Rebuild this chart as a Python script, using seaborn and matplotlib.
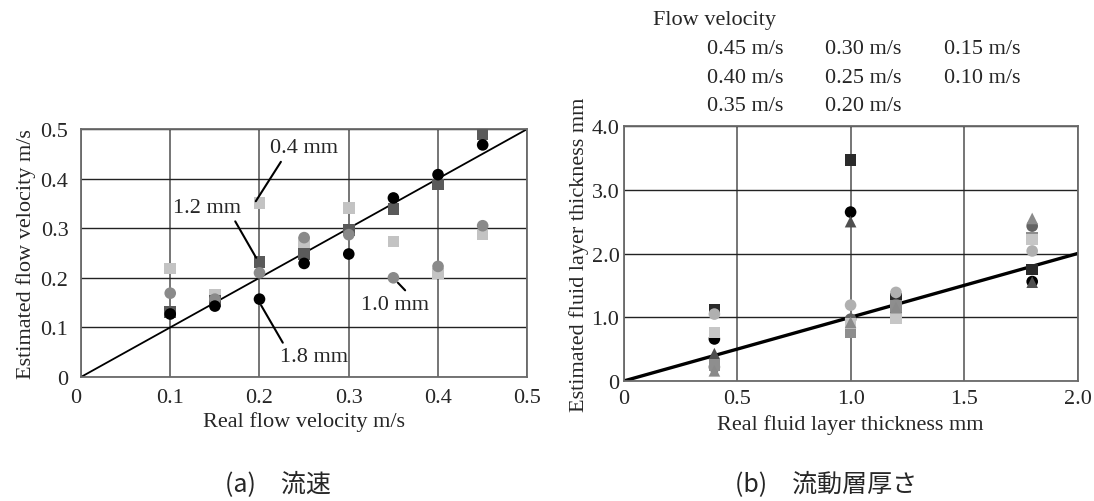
import numpy as np
import pandas as pd
import matplotlib
matplotlib.use("Agg")
import matplotlib.pyplot as plt
import seaborn as sns

# ---------------- data ----------------
real_velocity = [0.10, 0.15, 0.20, 0.25, 0.30, 0.35, 0.40, 0.45]
est_v_04mm = [0.219, 0.165, 0.351, 0.270, 0.341, 0.273, 0.209, 0.287]
est_v_12mm = [0.131, 0.153, 0.232, 0.248, 0.297, 0.339, 0.388, 0.489]
est_v_10mm = [0.169, 0.157, 0.210, 0.281, 0.287, 0.200, 0.223, 0.305]
est_v_18mm = [0.127, 0.143, 0.157, 0.229, 0.248, 0.361, 0.408, 0.468]
thick_labels = ["0.4 mm", "1.2 mm", "1.0 mm", "1.8 mm"]

real_thickness = [0.4, 1.0, 1.2, 1.8]
est_t_045 = [1.12, 3.47, 1.29, 1.75]
est_t_040 = [0.66, 2.65, 1.10, 1.56]
est_t_035 = [0.43, 2.50, 1.22, 1.55]
est_t_030 = [0.22, 0.97, 1.20, 2.43]
est_t_025 = [0.25, 0.77, 1.18, 2.25]
est_t_020 = [1.05, 1.19, 1.39, 2.04]
est_t_015 = [0.76, 0.90, 0.98, 2.22]
est_t_010 = [0.16, 0.92, 1.15, 2.55]
velocity_labels = ["0.45 m/s", "0.40 m/s", "0.35 m/s", "0.30 m/s",
                   "0.25 m/s", "0.20 m/s", "0.15 m/s", "0.10 m/s"]

# ---------------- style ----------------
sns.set_theme(style="white")
plt.rcParams["font.family"] = ["Liberation Serif", "DejaVu Serif"]
plt.rcParams["mathtext.fontset"] = "stix"

fig = plt.figure(figsize=(10.94, 5.02), dpi=100)
axL = fig.add_axes([0.074, 0.247, 0.408, 0.494])
axR = fig.add_axes([0.570, 0.239, 0.415, 0.508])

FS = 16

# ---------------- left: velocity ----------------
dfL = pd.DataFrame({
    "real": real_velocity * 4,
    "est": est_v_04mm + est_v_12mm + est_v_10mm + est_v_18mm,
    "thick": sum([[t] * len(real_velocity) for t in thick_labels], []),
})
paletteL = {"0.4 mm": "#c3c3c3", "1.2 mm": "#5a5a5a", "1.0 mm": "#8a8a8a", "1.8 mm": "#000000"}
markersL = {"0.4 mm": "s", "1.2 mm": "s", "1.0 mm": "o", "1.8 mm": "o"}
sns.scatterplot(data=dfL, x="real", y="est", hue="thick", style="thick",
                palette=paletteL, markers=markersL, s=70, linewidth=0,
                ax=axL, legend=False, zorder=3)
axL.plot([0, 0.5], [0, 0.5], color="black", lw=1.3, zorder=2)
axL.set_xlim(0, 0.5)
axL.set_ylim(0, 0.5)
axL.set_xticks([0, 0.1, 0.2, 0.3, 0.4, 0.5])
axL.set_xticklabels(["0", "0.1", "0.2", "0.3", "0.4", "0.5"])
axL.set_yticks([0, 0.1, 0.2, 0.3, 0.4, 0.5])
axL.set_yticklabels(["0", "0.1", "0.2", "0.3", "0.4", "0.5"])
axL.tick_params(axis="x", pad=8)
axL.tick_params(axis="y", pad=9)
axL.get_xticklabels()[0].set_horizontalalignment("right")
axL.set_xlabel("Real flow velocity m/s", fontsize=FS, labelpad=3)
axL.set_ylabel("Estimated flow velocity m/s", fontsize=FS, labelpad=3)

# (label, line end at marker, text centre, text anchor of the leader line)
ann = [("0.4 mm", (0.195, 0.352), (0.250, 0.462), (0.2, 0.0)),
       ("1.2 mm", (0.197, 0.238), (0.141, 0.342), (0.88, 0.0)),
       ("1.0 mm", (0.354, 0.192), (0.352, 0.147), (0.72, 0.95)),
       ("1.8 mm", (0.201, 0.147), (0.261, 0.041), (0.08, 1.0))]
for txt, xy, xyt, rp in ann:
    axL.annotate(txt, xy=xy, xytext=xyt, fontsize=FS, ha="center", va="center",
                 arrowprops=dict(arrowstyle="-", color="black", lw=1.5,
                                 shrinkA=1, shrinkB=1, relpos=rp),
                 zorder=4)

# ---------------- right: thickness ----------------
series_t = [est_t_045, est_t_040, est_t_035, est_t_030,
            est_t_025, est_t_020, est_t_015, est_t_010]
dfR = pd.DataFrame({
    "real": real_thickness * len(series_t),
    "est": sum(series_t, []),
    "vel": sum([[v] * len(real_thickness) for v in velocity_labels], []),
})
paletteR = dict(zip(velocity_labels, ["#2a2a2a", "#000000", "#4f4f4f", "#636363",
                                      "#8e8e8e", "#b0b0b0", "#c6c6c6", "#8a8a8a"]))
markersR = dict(zip(velocity_labels, ["s", "o", "^", "o", "s", "o", "s", "^"]))
sns.scatterplot(data=dfR, x="real", y="est", hue="vel", style="vel",
                hue_order=velocity_labels[::-1], style_order=velocity_labels[::-1],
                palette=paletteR, markers=markersR, s=70, linewidth=0,
                ax=axR, legend=False, zorder=3)
axR.plot([0, 2.0], [0, 2.0], color="black", lw=2.4, zorder=2)
axR.set_xlim(0, 2.0)
axR.set_ylim(0, 4.0)
axR.set_xticks([0, 0.5, 1.0, 1.5, 2.0])
axR.set_xticklabels(["0", "0.5", "1.0", "1.5", "2.0"])
axR.set_yticks([0, 1.0, 2.0, 3.0, 4.0])
axR.set_yticklabels(["0", "1.0", "2.0", "3.0", "4.0"])
axR.tick_params(axis="x", pad=5.5)
axR.tick_params(axis="y", pad=3)
axR.set_xlabel("Real fluid layer thickness mm", fontsize=FS, labelpad=4.5)
axR.set_ylabel("Estimated fluid layer thickness mm", fontsize=FS, labelpad=2)

for ax in (axL, axR):
    ax.tick_params(axis="both", labelsize=FS, length=0)
    ax.grid(True, axis="y", color="#222222", lw=1.0, zorder=0)
    ax.grid(True, axis="x", color="#6a6a6a", lw=1.3, zorder=0)
    ax.set_axisbelow(True)
    for sp in ax.spines.values():
        sp.set_color("#6a6a6a")
        sp.set_linewidth(1.3)

# legend (text only, as in the reference)
handles = [plt.Line2D([], [], linestyle="none", marker="s", markersize=0) for _ in velocity_labels]
leg = fig.legend(handles, velocity_labels, title="Flow velocity", ncol=3,
                 loc="upper left", bbox_to_anchor=(0.587, 1.0), frameon=False,
                 borderpad=0, fontsize=FS, title_fontsize=FS, columnspacing=-0.5,
                 handlelength=2.0, handletextpad=0.4, labelspacing=0.37)
leg._legend_box.align = "left"

# captions
cjk = ["Noto Sans CJK JP", "DejaVu Sans"]
fig.text(0.254, 0.034, "(a)\u3000流速", ha="center", va="center", fontsize=18, family=cjk)
fig.text(0.755, 0.034, "(b)\u3000流動層厚さ", ha="center", va="center", fontsize=18, family=cjk)

fig.savefig("out.png", dpi=100)
